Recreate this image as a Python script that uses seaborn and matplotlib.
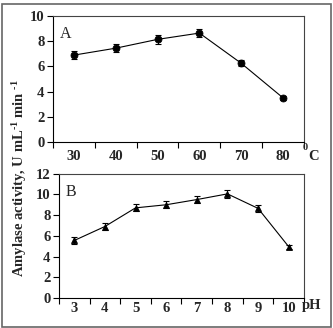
"""Amylase activity vs temperature (A) and pH (B)."""

import matplotlib
matplotlib.use("Agg")
import matplotlib.pyplot as plt
import numpy as np
import pandas as pd
import seaborn as sns
from matplotlib.patches import Rectangle

# Panel A: temperature
temp_labels = ["30", "40", "50", "60", "70", "80"]
temp_activity = [6.9, 7.45, 8.15, 8.65, 6.25, 3.5]
temp_err = [0.3, 0.3, 0.35, 0.3, 0.25, 0.15]

# Panel B: pH
ph_labels = ["3", "4", "5", "6", "7", "8", "9", "10"]
ph_activity = [5.55, 6.9, 8.7, 9.0, 9.5, 10.05, 8.65, 4.95]
ph_err = [0.3, 0.3, 0.35, 0.35, 0.3, 0.35, 0.35, 0.2]

sns.set_style("white")
plt.rcParams["font.family"] = ["Liberation Serif", "DejaVu Serif"]
plt.rcParams["font.weight"] = "bold"
plt.rcParams["mathtext.fontset"] = "custom"
plt.rcParams["mathtext.rm"] = "Liberation Serif:bold"
plt.rcParams["mathtext.bf"] = "Liberation Serif:bold"
plt.rcParams["mathtext.it"] = "Liberation Serif:bold"

fig = plt.figure(figsize=(3.33, 3.28), dpi=100)
ax_a = fig.add_axes([0.159, 0.567, 0.754, 0.384])
ax_b = fig.add_axes([0.177, 0.0915, 0.736, 0.379])

# outer frame
fig.patches.append(Rectangle((0.006, 0.004), 0.988, 0.985, transform=fig.transFigure,
                             fill=False, edgecolor="#666666", linewidth=1.2))


def draw_panel(ax, labels, values, errs, marker, ymax, letter, xpad):
    df = pd.DataFrame({"x": labels, "y": values})
    sns.pointplot(data=df, x="x", y="y", ax=ax, color="black", marker=marker,
                  markersize=5, linewidth=0.8, errorbar=None)
    ax.errorbar(np.arange(len(labels)), values, yerr=errs, fmt="none",
                ecolor="black", elinewidth=0.8, capsize=2.5, capthick=0.8)
    n = len(labels)
    ax.set_xlim(-0.5, n - 0.5)
    ax.set_ylim(0, ymax)
    ax.set_yticks(np.arange(0, ymax + 1, 2))
    ax.set_xticks(np.arange(-0.5, n, 1.0))
    ax.set_xticklabels([])
    ax.set_xticks(np.arange(n), minor=True)
    ax.set_xticklabels(labels, minor=True)
    ax.tick_params(axis="x", which="major", direction="out", length=4, width=0.8,
                   bottom=True, color="black")
    ax.tick_params(axis="x", which="minor", length=0, pad=xpad, labelsize=10.5)
    ax.tick_params(axis="y", direction="out", length=4, width=0.8, left=True,
                   color="black", labelsize=10.5, pad=2)
    for lab in ax.get_xticklabels(minor=True) + ax.get_yticklabels():
        lab.set_fontweight("bold")
    for side, sp in ax.spines.items():
        sp.set_linewidth(0.8)
        sp.set_color("black" if side in ("left", "bottom") else "#444444")
    ax.set_xlabel("")
    ax.set_ylabel("")
    ax.text(0.028, 0.92, letter, transform=ax.transAxes, fontsize=11.5,
            fontweight="normal", va="top", ha="left")


draw_panel(ax_a, temp_labels, temp_activity, temp_err, "o", 10, "A", 6)
draw_panel(ax_b, ph_labels, ph_activity, ph_err, "^", 12, "B", 3)

# unit labels next to the last tick
fig.text(303 / 333, 1 - 148 / 328, "0", fontsize=7.5, fontweight="bold",
         ha="left", va="center")
fig.text(308 / 333, 1 - 156 / 328, "C", fontsize=10.5, fontweight="bold",
         ha="left", va="center")
fig.text(302 / 333, 1 - 306 / 328, "pH", fontsize=10.5, fontweight="bold",
         ha="left", va="center")

fig.text(0.06, 0.457, r"Amylase activity, U mL$^{\text{-1}}$ min $^{\text{-1}}$",
         rotation=90, fontsize=10.5, fontweight="bold", ha="center", va="center")

fig.savefig("out.png", dpi=100)
